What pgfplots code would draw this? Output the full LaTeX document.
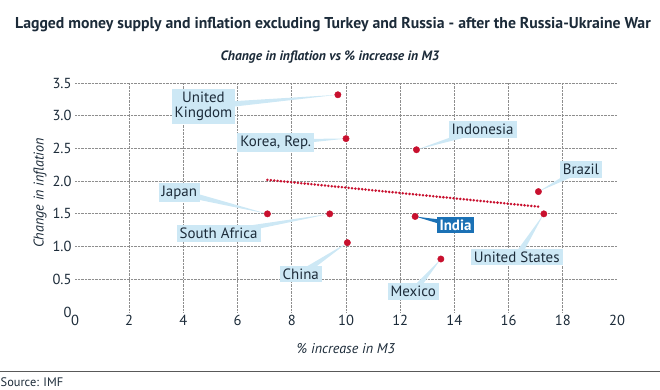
\documentclass[border=0pt]{standalone}
\usepackage{fontspec}
\setmainfont{PT Sans}
\usepackage{pgfplots}
\pgfplotsset{compat=1.18}
\usetikzlibrary{calc}
\definecolor{dotred}{HTML}{C8102E}
\definecolor{lblue}{HTML}{CDE8F5}
\definecolor{navy}{HTML}{1C2B39}
\definecolor{iblue}{HTML}{1B71B5}
\definecolor{gridgray}{HTML}{8E8E8E}
\newcommand{\leader}[5][lblue]{%
  \fill[#1] (axis cs:#4,#5) -- ($(axis cs:#2,#3)!3.5bp!90:(axis cs:#4,#5)$) -- ($(axis cs:#2,#3)!3.5bp!-90:(axis cs:#4,#5)$) -- cycle;}
\begin{document}
\begin{tikzpicture}[x=1bp,y=1bp]
\path[use as bounding box] (0,0) rectangle (660,389);
\node[font=\bfseries\fontsize{15.8}{18}\selectfont, text=navy] at (333,364) {Lagged money supply and inflation excluding Turkey and Russia - after the Russia-Ukraine War};
\node[font=\bfseries\itshape\fontsize{13.6}{16}\selectfont, text=navy] at (330,332) {Change in inflation vs \% increase in M3};
\draw[gray!70!black, line width=1bp] (0,18) -- (660,18);
\node[anchor=base west, font=\fontsize{12.4}{14}\selectfont, inner sep=0, text=navy] at (0.5,3) {Source: IMF};
\begin{axis}[at={(75bp,77bp)}, anchor=south west, scale only axis,
  width=542bp, height=229bp,
  xmin=0, xmax=20, ymin=0, ymax=3.5,
  axis line style={draw=none}, major tick length=0, minor tick length=0,
  xtick={0,2,...,20}, ytick={0,0.5,...,3.5},
  yticklabels={0,0.5,1.0,1.5,2.0,2.5,3.0,3.5},
  minor xtick={2,4,...,18}, minor ytick={0.5,1,...,3.5},
  xminorgrids, yminorgrids,
  minor grid style={gridgray, densely dotted, line width=0.8bp},
  tick label style={font=\fontsize{14.6}{16}\selectfont, text=navy},
  /pgf/number format/assume math mode=true,
  xlabel={\itshape \% increase in M3},
  ylabel={\itshape Change in inflation},
  label style={font=\fontsize{14.2}{16}\selectfont, text=navy},
  xlabel style={at={(axis description cs:0.5,-0.16)}, anchor=center},
  ylabel style={at={(axis description cs:-0.0646,0.52)}, anchor=center},
  clip=false,
]
% leader lines
\leader{4.74}{3.14}{9.7}{3.32}
\leader{7.41}{2.59}{10.0}{2.65}
\leader{15.04}{2.79}{12.6}{2.48}
\leader{18.67}{2.18}{17.1}{1.84}
\leader[iblue]{14.04}{1.33}{12.55}{1.46}
\leader{3.85}{1.83}{7.1}{1.50}
\leader{5.30}{1.20}{9.4}{1.50}
\leader{8.33}{0.58}{10.05}{1.06}
\leader{16.3}{0.84}{17.3}{1.50}
\leader{12.48}{0.31}{13.5}{0.81}
% trend line
\addplot[dotred, line width=2.8bp, dash pattern=on 0pt off 3.4bp, line cap=round] coordinates {(7.1,2.02) (17.1,1.61)};
% points
\addplot[only marks, mark=*, mark size=3.2bp, mark options={fill=dotred, draw=dotred}] coordinates {
(9.7,3.32) (10.0,2.65) (12.6,2.48) (17.1,1.84) (17.3,1.50) (12.55,1.46) (7.1,1.50) (9.4,1.50) (10.05,1.06) (13.5,0.81)};
% labels
\begin{scope}[every node/.style={fill=lblue, text=navy, font=\fontsize{15}{15}\selectfont, inner sep=3bp, align=center}]
\node at (axis cs:4.74,3.14) {United\\Kingdom};
\node at (axis cs:7.41,2.59) {Korea, Rep.};
\node at (axis cs:15.04,2.79) {Indonesia};
\node at (axis cs:18.67,2.18) {Brazil};
\node[fill=iblue, text=white, font=\bfseries\fontsize{15}{15}\selectfont] at (axis cs:14.04,1.33) {India};
\node at (axis cs:3.85,1.83) {Japan};
\node at (axis cs:5.30,1.20) {South Africa};
\node at (axis cs:8.33,0.58) {China};
\node at (axis cs:16.3,0.84) {United States};
\node at (axis cs:12.48,0.31) {Mexico};
\end{scope}
\end{axis}
\end{tikzpicture}
\end{document}
